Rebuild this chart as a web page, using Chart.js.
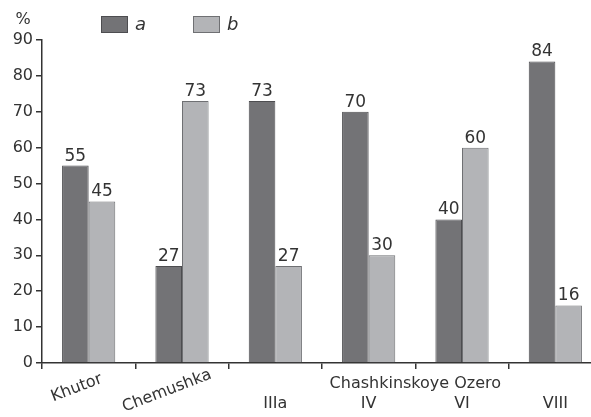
<!DOCTYPE html>
<html>
<head>
<meta charset="utf-8">
<script src="https://cdn.jsdelivr.net/npm/chart.js@4"></script>
<style>
  html, body { margin: 0; padding: 0; background: #fff; overflow: hidden; }
  /* the figure's last category runs past the right edge of the picture */
  #wrap { width: 602px; height: 417px; position: relative; }
</style>
</head>
<body>
<div id="wrap"><canvas id="bar-chart"></canvas></div>
<script>
// categories and series
const categories = ["Khutor", "Chemushka", "IIIa", "IV", "VI", "VIII"];
const seriesNames = ["a", "b"];
const valuesA = [55, 27, 73, 70, 40, 84];
const valuesB = [45, 73, 27, 30, 60, 16];
const groupLabel = "Chashkinskoye Ozero"; // spans IIIa .. VIII
const yTicks = [0, 10, 20, 30, 40, 50, 60, 70, 80, 90];

const textColor = '#333';
const font = '"DejaVu Sans", Arial, sans-serif';

// value labels on top of each bar
const valueLabels = {
  id: 'valueLabels',
  afterDatasetsDraw(chart) {
    const ctx = chart.ctx;
    ctx.save();
    ctx.fillStyle = textColor;
    ctx.font = '17px ' + font;
    ctx.textAlign = 'center';
    ctx.textBaseline = 'bottom';
    chart.data.datasets.forEach((ds, i) => {
      chart.getDatasetMeta(i).data.forEach((bar, j) => {
        ctx.fillText(ds.data[j], bar.x, bar.y - 1);
      });
    });
    ctx.restore();
  }
};

// x labels: first two tilted, lake sites with a shared group label
const xLabels = {
  id: 'xLabels',
  afterDraw(chart) {
    const ctx = chart.ctx;
    const x = chart.scales.x;
    const base = chart.chartArea.bottom;
    ctx.save();
    ctx.fillStyle = textColor;
    ctx.font = '16px ' + font;
    ctx.textAlign = 'center';
    ctx.textBaseline = 'middle';
    categories.forEach((c, i) => {
      const px = x.getPixelForValue(i);
      if (i < 2) {
        ctx.save();
        ctx.translate(px - 12 + i * -3, base + 25 + i * 3);
        ctx.rotate(-21 * Math.PI / 180);
        ctx.fillText(c, 0, 0);
        ctx.restore();
      } else {
        ctx.fillText(c, px, base + 41);
      }
    });
    const gx = (x.getPixelForValue(2) + x.getPixelForValue(5)) / 2;
    ctx.fillText(groupLabel, gx, base + 21);
    // axis unit
    ctx.fillText('%', 23, 20);
    ctx.restore();
  }
};

// legend drawn at the top left like the figure
const topLegend = {
  id: 'topLegend',
  afterDraw(chart) {
    const ctx = chart.ctx;
    const pos = [101, 193];
    ctx.save();
    chart.data.datasets.forEach((ds, i) => {
      ctx.fillStyle = ds.backgroundColor;
      ctx.strokeStyle = ds.borderColor;
      ctx.lineWidth = 1;
      ctx.fillRect(pos[i], 16, 27, 17);
      ctx.strokeRect(pos[i] + 0.5, 16.5, 26, 16);
      ctx.fillStyle = textColor;
      ctx.font = 'italic 18px ' + font;
      ctx.textBaseline = 'middle';
      ctx.fillText(ds.label, pos[i] + 34, 25);
    });
    ctx.restore();
  }
};

const data = {
  labels: categories,
  datasets: [{
    label: seriesNames[0],
    data: valuesA,
    backgroundColor: '#737376',
    borderColor: '#4d4d50',
    borderWidth: 1
  }, {
    label: seriesNames[1],
    data: valuesB,
    backgroundColor: '#b3b4b7',
    borderColor: '#6f7073',
    borderWidth: 1
  }]
};

const options = {
  responsive: true,
  maintainAspectRatio: false,
  animation: false,
  layout: { padding: { left: 0, top: 40, right: 0, bottom: 48 } },
  datasets: { bar: { categoryPercentage: 0.57, barPercentage: 1 } },
  plugins: {
    legend: { display: false },
    tooltip: { enabled: false }
  },
  scales: {
    x: {
      ticks: { display: false },
      grid: { drawOnChartArea: false, drawTicks: true, tickLength: 6, color: '#333', lineWidth: 1.5, offset: true },
      border: { color: '#333', width: 1.5 },
      afterFit(scale) { scale.height = 6; }
    },
    y: {
      min: 0,
      max: 90,
      afterBuildTicks(scale) { scale.ticks = yTicks.map(v => ({ value: v })); },
      ticks: { color: textColor, font: { family: font, size: 16 }, padding: 3 },
      grid: { drawOnChartArea: false, drawTicks: true, tickLength: 6, color: '#333', lineWidth: 1.5 },
      border: { color: '#333', width: 1.5 },
      afterFit(scale) { scale.width = 42; }
    }
  }
};

const ctx = document.getElementById('bar-chart').getContext('2d');
const barChart = new Chart(ctx, {
  type: 'bar',
  data: data,
  options: options,
  plugins: [valueLabels, xLabels, topLegend]
});
</script>
</body>
</html>
